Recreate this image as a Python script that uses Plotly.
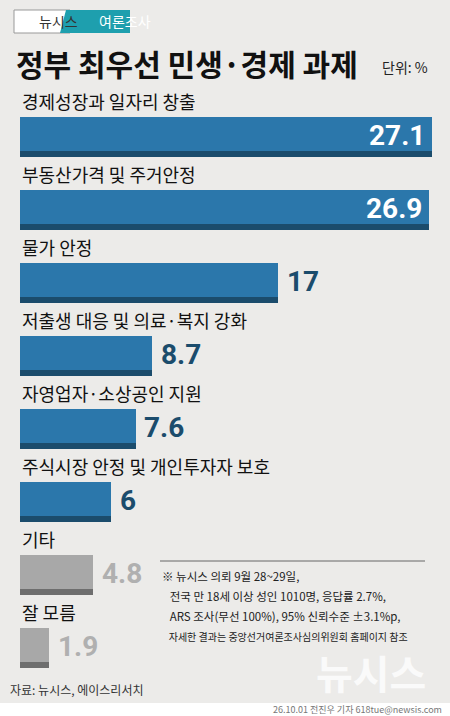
import plotly.graph_objects as go

categories = ["경제성장과 일자리 창출", "부동산가격 및 주거안정", "물가 안정",
              "저출생 대응 및 의료·복지 강화", "자영업자·소상공인 지원",
              "주식시장 안정 및 개인투자자 보호", "기타", "잘 모름"]
values = [27.1, 26.9, 17, 8.7, 7.6, 6, 4.8, 1.9]
value_labels = ["27.1", "26.9", "17", "8.7", "7.6", "6", "4.8", "1.9"]

W, H = 450, 716
BG = "#ecebe9"
scale = 412 / 27.1  # pixels per percent
x0 = -20 / scale
x1 = (W - 20) / scale

centers = [137 + 73 * i for i in range(len(values))]
main_col = ["#2b77ab"] * 6 + ["#a8a8a8"] * 2
dark_col = ["#1b4c6c"] * 6 + ["#6e6e6e"] * 2

fig = go.Figure()
fig.add_trace(go.Bar(x=values, y=centers, orientation="h", width=40,
                     marker=dict(color=main_col, line=dict(width=0)), hoverinfo="skip"))
fig.add_trace(go.Bar(x=values, y=[c + 17 for c in centers], orientation="h", width=6,
                     marker=dict(color=dark_col, line=dict(width=0)), hoverinfo="skip"))

num_font = "Roboto"
for i, (cat, v, lab, c) in enumerate(zip(categories, values, value_labels, centers)):
    fig.add_annotation(x=0, y=c - 36, xref="x", yref="y", text=cat, showarrow=False,
                       xanchor="left", yanchor="middle",
                       font=dict(size=18, color="#111", family="Noto Sans CJK KR"))
    if v > 20:
        fig.add_annotation(x=v - 0.3, y=c - 2, text="<b>" + lab + "</b>", showarrow=False,
                           xanchor="right", yanchor="middle",
                           font=dict(size=28, color="white", family=num_font))
    else:
        fig.add_annotation(x=v + 0.45, y=c - 2, text="<b>" + lab + "</b>", showarrow=False,
                           xanchor="left", yanchor="middle",
                           font=dict(size=28, color=dark_col[i] if i < 6 else "#b0b0b0",
                                     family=num_font))

kr = "Noto Sans CJK KR"
# header badge
fig.add_shape(type="rect", xref="paper", yref="y", x0=14 / W, x1=70 / W, y0=10, y1=33,
              line=dict(color="#999", width=1), fillcolor="white", layer="below")
fig.add_shape(type="path", xref="paper", yref="y",
              path=f"M {66/W},10 L {130/W},10 L {130/W},33 L {60/W},33 Z",
              line=dict(width=0), fillcolor="#1e9fae", layer="below")
fig.add_annotation(x=37 / W, y=21, xref="paper", yref="y", text="뉴시스", showarrow=False,
                   font=dict(size=14, color="#333", family=kr))
fig.add_annotation(x=97 / W, y=21, xref="paper", yref="y", text="여론조사", showarrow=False,
                   font=dict(size=14, color="white", family=kr))
fig.add_annotation(x=14 / W, y=63, xref="paper", yref="y", text="<b>정부 최우선 민생·경제 과제</b>",
                   showarrow=False, xanchor="left", yanchor="middle",
                   font=dict(size=30, color="#111", family=kr))
fig.add_annotation(x=380 / W, y=67, xref="paper", yref="y", text="단위: %",
                   showarrow=False, xanchor="left", yanchor="middle",
                   font=dict(size=14, color="#222", family=kr))

# note
fig.add_shape(type="line", xref="paper", yref="y", x0=160 / W, x1=425 / W, y0=561, y1=561,
              line=dict(color="#666", width=1))
notes = ["※ 뉴시스 의뢰 9월 28~29일,", "   전국 만 18세 이상 성인 1010명, 응답률 2.7%,",
         "   ARS 조사(무선 100%), 95% 신뢰수준 ±3.1%p,", "   자세한 결과는 중앙선거여론조사심의위원회 홈페이지 참조"]
for j, t in enumerate(notes):
    fig.add_annotation(x=160 / W, y=576 + 20 * j, xref="paper", yref="y", text=t,
                       showarrow=False, xanchor="left", yanchor="middle",
                       font=dict(size=11.5 if j < 3 else 10, color="#222", family=kr))
fig.add_annotation(x=428 / W, y=672, xref="paper", yref="y", text="<b>뉴시스</b>",
                   showarrow=False, xanchor="right", yanchor="middle",
                   font=dict(size=40, color="#fafafa", family=kr))
fig.add_annotation(x=8 / W, y=689, xref="paper", yref="y", text="자료: 뉴시스, 에이스리서치",
                   showarrow=False, xanchor="left", yanchor="middle",
                   font=dict(size=12, color="#333", family=kr))
fig.add_shape(type="rect", xref="paper", yref="y", x0=0, x1=1, y0=703, y1=716,
              line=dict(width=0), fillcolor="white", layer="below")
fig.add_annotation(x=444 / W, y=709, xref="paper", yref="y",
                   text="26.10.01 전진우 기자 618tue@newsis.com", showarrow=False,
                   xanchor="right", yanchor="middle",
                   font=dict(size=9, color="#777", family=kr))

fig.update_xaxes(range=[x0, x1], visible=False, fixedrange=True)
fig.update_yaxes(range=[H, 0], visible=False, fixedrange=True)
fig.update_layout(width=W, height=H, margin=dict(l=0, r=0, t=0, b=0),
                  plot_bgcolor=BG, paper_bgcolor=BG, showlegend=False,
                  barmode="overlay", bargap=0)
fig.write_html("out.html", config={"displayModeBar": False},
               post_script="document.body.style.margin='0';")
